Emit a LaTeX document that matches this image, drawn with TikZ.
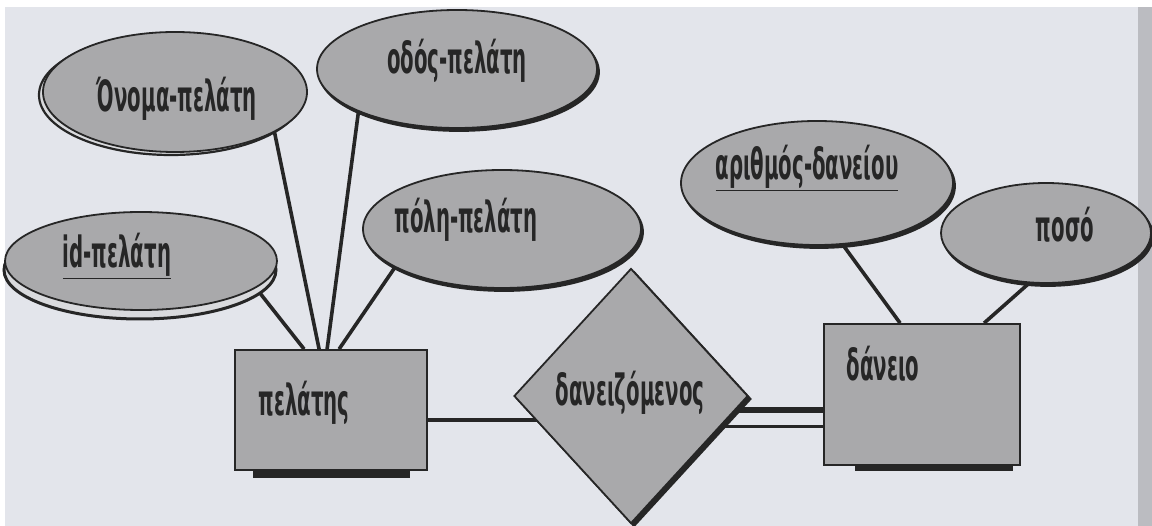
\documentclass[tikz,border=0pt]{standalone}
\usepackage{fontspec}
\usetikzlibrary{shapes.geometric}
\newfontfamily\erfont[FakeStretch=0.51]{DejaVu Sans Condensed}
\definecolor{ink}{HTML}{262626}
\definecolor{shapefill}{HTML}{A9A9AB}
\definecolor{shadefill}{HTML}{D9DADD}
\definecolor{pagebg}{HTML}{E3E5EB}
\definecolor{edgestrip}{HTML}{BBBCC1}
\pgfdeclarelayer{paper}
\pgfdeclarelayer{wires}
\pgfsetlayers{paper,wires,main}
\tikzset{
  attr/.style 2 args={ellipse, draw=ink, line width=1.8pt, fill=shapefill,
    inner sep=0pt, minimum width=#1, minimum height=#2},
  ent/.style={rectangle, draw=ink, line width=1.8pt, fill=shapefill, inner sep=0pt},
  bar/.style={rectangle, fill=ink, draw=none, inner sep=0pt},
  relbox/.style={diamond, draw=ink, line width=1.8pt, fill=shapefill, inner sep=0pt,
    minimum width=234pt, minimum height=255pt},
  conn/.style={draw=ink, line width=3.6pt},
  lbl/.style={font=\erfont\bfseries\fontsize{43pt}{45pt}\selectfont, text=ink, anchor=base, inner sep=0pt},
}
\begin{document}
\begin{tikzpicture}[x=1pt,y=-1pt]
\begin{pgfonlayer}{paper}
  \fill[white] (0,0) rectangle (1152,526);
  \fill[pagebg] (5,7) rectangle (1152,526);
  \fill[edgestrip] (1138,7) rectangle (1152,526);
\end{pgfonlayer}
\useasboundingbox (0,0) rectangle (1152,526);

% entity shadow bars and entities
\node[bar, minimum width=157pt, minimum height=8pt] (pelS) at (331.5,474) {};
\node[bar, minimum width=158pt, minimum height=6pt] (danS) at (934,468) {};
\node[ent, minimum width=192pt, minimum height=120pt] (pel) at (331,410) {};
\node[ent, minimum width=196pt, minimum height=141pt] (dan) at (922,394.5) {};

% relationship
\node[relbox, fill=ink] (relS) at (634,399) {};
\node[relbox] (rel) at (631,396) {};

% attributes with shadows
\node[attr={264pt}{120pt}, fill=shadefill, line width=2.2pt] (onomaS) at (171,95) {};
\node[attr={264pt}{120pt}] (onoma) at (175,92) {};
\node[attr={280pt}{118pt}, fill=ink] (odosS) at (459,72) {};
\node[attr={280pt}{118pt}] (odos) at (457,69) {};
\node[attr={278pt}{118pt}, fill=ink] (poliS) at (504,232) {};
\node[attr={278pt}{118pt}] (poli) at (502,229) {};
\node[attr={272pt}{98pt}, fill=shadefill, line width=3pt] (idS) at (140,270) {};
\node[attr={272pt}{98pt}] (id) at (141,261) {};
\node[attr={272pt}{124pt}, fill=ink] (arithS) at (819,186) {};
\node[attr={272pt}{124pt}] (arith) at (817,183) {};
\node[attr={210pt}{100pt}, fill=ink] (posoS) at (1048,236) {};
\node[attr={210pt}{100pt}] (poso) at (1046,233) {};

% connectors
\begin{pgfonlayer}{wires}
  \draw[conn] ([shift={(111,22)}]id.center) -- ([xshift=70pt]pel.north west);
  \draw[conn] ([shift={(97,28)}]onoma.center) -- ([xshift=85pt]pel.north west);
  \draw[conn] ([shift={(-97,31)}]odos.center) -- ([xshift=93pt]pel.north west);
  \draw[conn] ([shift={(-102,31)}]poli.center) -- ([xshift=105pt]pel.north west);
  \draw[conn] ([shift={(15,47)}]arith.center) -- ([xshift=77pt]dan.north west);
  \draw[conn] ([shift={(-2,37)}]poso.center) -- ([xshift=161pt]dan.north west);
  \draw[conn, line width=4.5pt] ([yshift=-24pt]rel.center) -- ([yshift=-24pt]rel.center -| pel.east);
  \draw[draw=ink, line width=6pt] ([yshift=-14pt]rel.center) -- ([yshift=-14pt]rel.center -| dan.west);
  \draw[draw=ink, line width=3pt] ([yshift=-31pt]rel.center) -- ([yshift=-31pt]rel.center -| dan.west);
\end{pgfonlayer}

% labels
\node[lbl] (tOnoma) at (177,112) {Όνομα-πελάτη};
\node[lbl] (tOdos) at (457,74) {οδός-πελάτη};
\node[lbl] (tPoli) at (466,233) {πόλη-πελάτη};
\node[lbl] (tId) at (117,268) {\underline{id-πελάτη}};
\node[lbl] (tArith) at (807,180) {\underline{αριθμός-δανείου}};
\node[lbl] (tPoso) at (1065,242) {ποσό};
\node[lbl] (tPel) at (304,416) {πελάτης};
\node[lbl] (tRel) at (630,406) {δανειζόμενος};
\node[lbl] (tDan) at (883,381) {δάνειο};
\end{tikzpicture}
\end{document}
